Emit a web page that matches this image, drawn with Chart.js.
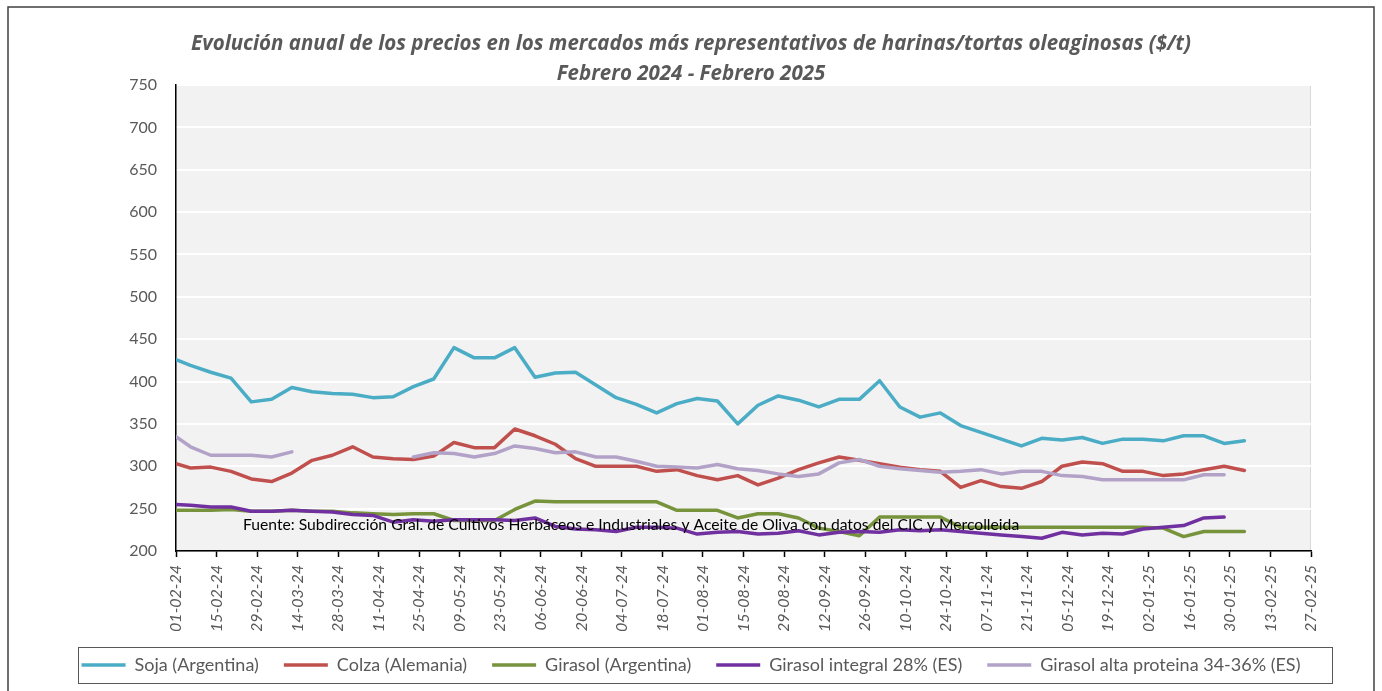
<!DOCTYPE html>
<html>
<head>
<meta charset="utf-8">
<script src="https://cdn.jsdelivr.net/npm/chart.js@4.4.1/dist/chart.umd.min.js"></script>
<style>
  body { margin: 0; background: #fff; }
  #wrap { width: 1382px; height: 691px; }
</style>
</head>
<body>
<div id="wrap"><canvas id="myChart"></canvas></div>
<script>
// axis tick labels, every 14 days from 01-02-24
var tickLabels = ["01-02-24", "15-02-24", "29-02-24", "14-03-24", "28-03-24", "11-04-24", "25-04-24",
  "09-05-24", "23-05-24", "06-06-24", "20-06-24", "04-07-24", "18-07-24", "01-08-24", "15-08-24",
  "29-08-24", "12-09-24", "26-09-24", "10-10-24", "24-10-24", "07-11-24", "21-11-24", "05-12-24",
  "19-12-24", "02-01-25", "16-01-25", "30-01-25", "13-02-25", "27-02-25"];

// quote dates (first one on 01-02-24, then weekly on tuesdays)
var quoteDates = ["2024-02-01",
  "2024-02-06", "2024-02-13", "2024-02-20", "2024-02-27",
  "2024-03-05", "2024-03-12", "2024-03-19", "2024-03-26",
  "2024-04-02", "2024-04-09", "2024-04-16", "2024-04-23", "2024-04-30",
  "2024-05-07", "2024-05-14", "2024-05-21", "2024-05-28",
  "2024-06-04", "2024-06-11", "2024-06-18", "2024-06-25",
  "2024-07-02", "2024-07-09", "2024-07-16", "2024-07-23", "2024-07-30",
  "2024-08-06", "2024-08-13", "2024-08-20", "2024-08-27",
  "2024-09-03", "2024-09-10", "2024-09-17", "2024-09-24",
  "2024-10-01", "2024-10-08", "2024-10-15", "2024-10-22", "2024-10-29",
  "2024-11-05", "2024-11-12", "2024-11-19", "2024-11-26",
  "2024-12-03", "2024-12-10", "2024-12-17", "2024-12-24", "2024-12-31",
  "2025-01-07", "2025-01-14", "2025-01-21", "2025-01-28",
  "2025-02-04"];

var seriesNames = ["Soja (Argentina)", "Colza (Alemania)", "Girasol (Argentina)",
  "Girasol integral 28% (ES)", "Girasol alta proteina 34-36% (ES)"];

var soja = [426, 419, 411, 404, 376, 379, 393, 388, 386, 385,
  381, 382, 394, 403, 440, 428, 428, 440, 405, 410,
  411, 396, 381, 373, 363, 374, 380, 377, 350, 372,
  383, 378, 370, 379, 379, 401, 370, 358, 363, 348,
  340, 332, 324, 333, 331, 334, 327, 332, 332, 330,
  336, 336, 327, 330];

var colza = [303, 298, 299, 294, 285, 282, 292, 307, 313, 323,
  311, 309, 308, 312, 328, 322, 322, 344, 336, 326,
  309, 300, 300, 300, 294, 296, 289, 284, 289, 278,
  286, 296, 304, 311, 307, 303, 299, 296, 294, 275,
  283, 276, 274, 282, 300, 305, 303, 294, 294, 289,
  291, 296, 300, 295];

var girasolArg = [248, 248, 248, 249, 247, 247, 248, 247, 247, 245,
  244, 243, 244, 244, 236, 236, 236, 249, 259, 258,
  258, 258, 258, 258, 258, 248, 248, 248, 239, 244,
  244, 239, 227, 223, 218, 240, 240, 240, 240, 228,
  228, 228, 228, 228, 228, 228, 228, 228, 228, 227,
  217, 223, 223, 223];

var girasolIntegral = [255, 254, 252, 252, 247, 247, 248, 247, 246, 243,
  242, 234, 237, 235, 237, 237, 237, 236, 239, 229,
  226, 225, 223, 228, 228, 227, 220, 222, 223, 220,
  221, 224, 219, 222, 223, 222, 225, 224, 225, 223,
  221, 219, 217, 215, 222, 219, 221, 220, 226, 228,
  230, 239, 240, null];

var girasolAlta = [335, 323, 313, 313, 313, 311, 317, null, null, null,
  null, null, 311, 316, 315, 311, 315, 324, 321, 316,
  317, 311, 311, 306, 300, 299, 298, 302, 297, 295,
  291, 288, 291, 304, 308, 300, 297, 295, 293, 294,
  296, 291, 294, 294, 289, 288, 284, 284, 284, 284,
  284, 290, 290, null];

var lineColors = ["#4bacc6", "#c0504d", "#77933c", "#7030a0", "#b3a2c7"];
var seriesData = [soja, colza, girasolArg, girasolIntegral, girasolAlta];

var START = Date.UTC(2024, 1, 1);
var DAY = 86400000;
function dayOffset(s) {
  var p = s.split("-");
  return (Date.UTC(+p[0], +p[1] - 1, +p[2]) - START) / DAY;
}
var xDays = quoteDates.map(dayOffset);

var FONT = "Lato";
var GREY_TEXT = "#595959";

var datasets = seriesData.map(function (d, i) {
  return {
    label: seriesNames[i],
    data: d.map(function (v, k) { return { x: xDays[k], y: v }; }),
    borderColor: lineColors[i],
    backgroundColor: lineColors[i],
    borderWidth: 3.5,
    borderCapStyle: "round",
    borderJoinStyle: "round",
    pointRadius: 0,
    tension: 0,
    spanGaps: false,
    order: seriesData.length - i   // later series on top, as in the original
  };
});

var framePlugin = {
  id: "frame",
  beforeDraw: function (chart) {
    var ctx = chart.ctx, a = chart.chartArea;
    ctx.save();
    ctx.fillStyle = "#ffffff";
    ctx.fillRect(0, 0, chart.width, chart.height);
    ctx.strokeStyle = "#404040";
    ctx.lineWidth = 1.5;
    ctx.strokeRect(8, 7, 1366, 700);
    ctx.fillStyle = "#f2f2f2";
    ctx.fillRect(a.left, a.top, a.right - a.left, a.bottom - a.top);
    ctx.strokeStyle = "#d9d9d9";
    ctx.lineWidth = 1;
    ctx.strokeRect(a.left, a.top + 0.5, a.right - a.left - 0.5, a.bottom - a.top);
    ctx.restore();
  },
  afterDatasetsDraw: function (chart) {
    var ctx = chart.ctx, a = chart.chartArea;
    ctx.save();
    ctx.font = "15.7px " + FONT;
    ctx.fillStyle = "#000";
    ctx.textBaseline = "middle";
    ctx.fillText("Fuente: Subdirección Gral. de Cultivos Herbáceos e Industriales y Aceite de Oliva con datos del CIC y Mercolleida",
      a.left + 67, 525);
    ctx.restore();
  },
  afterDraw: function (chart) {
    var lg = chart.legend, boxes = lg.legendHitBoxes;
    if (!boxes || !boxes.length) return;
    var left = boxes[0].left, right = 0;
    boxes.forEach(function (b) { right = Math.max(right, b.left + b.width); });
    var ctx = chart.ctx;
    ctx.save();
    ctx.strokeStyle = "#595959";
    ctx.lineWidth = 1;
    ctx.strokeRect(Math.round(left - 4) + 0.5, Math.round(lg.top + 16) + 0.5,
      Math.round(right - left + 35), 36);
    ctx.restore();
  }
};

new Chart("myChart", {
  type: "line",
  data: { datasets: datasets },
  plugins: [framePlugin],
  options: {
    responsive: true,
    maintainAspectRatio: false,
    animation: false,
    layout: { padding: { left: 0, right: 0, top: 0, bottom: 7 } },
    plugins: {
      title: {
        display: true,
        text: ["Evolución anual de los precios en los mercados más representativos de harinas/tortas oleaginosas ($/t)",
          "Febrero 2024 - Febrero 2025"],
        color: GREY_TEXT,
        font: { family: "Open Sans", size: 20.5, weight: "bold", style: "italic", lineHeight: "30px" },
        padding: { top: 29, bottom: -4 }
      },
      legend: {
        position: "bottom",
        labels: {
          font: { family: FONT, size: 18 },
          color: GREY_TEXT,
          usePointStyle: true,
          pointStyle: "line",
          pointStyleWidth: 44,
          padding: 25,
          sort: function (a, b) { return a.datasetIndex - b.datasetIndex; }
        }
      },
      tooltip: { enabled: false }
    },
    scales: {
      x: {
        type: "linear",
        min: 0,
        max: 392,
        ticks: {
          stepSize: 14,
          autoSkip: false,
          maxRotation: 90,
          minRotation: 90,
          padding: 8,
          color: GREY_TEXT,
          font: { family: FONT, size: 16, style: "italic" },
          callback: function (v) { return tickLabels[Math.round(v / 14)]; }
        },
        grid: {
          drawOnChartArea: false,
          tickLength: 6,
          tickColor: "#000",
          tickWidth: 1.5
        },
        border: { color: "#000", width: 1.5 },
        afterFit: function (s) { s.height = 80; }
      },
      y: {
        min: 200,
        max: 750,
        ticks: {
          stepSize: 50,
          padding: 19,
          color: GREY_TEXT,
          font: { family: FONT, size: 16 }
        },
        grid: {
          drawTicks: false,
          lineWidth: 2,
          color: function (c) { return c.tick && c.tick.value === 200 ? "rgba(0,0,0,0)" : "#ffffff"; }
        },
        border: { color: "#000", width: 1.5 },
        afterFit: function (s) { s.width = 176; }
      },
      yRight: {
        position: "right",
        display: true,
        ticks: { display: false },
        grid: { display: false },
        border: { display: false },
        afterFit: function (s) { s.width = 71; }
      }
    }
  }
});
</script>
</body>
</html>
